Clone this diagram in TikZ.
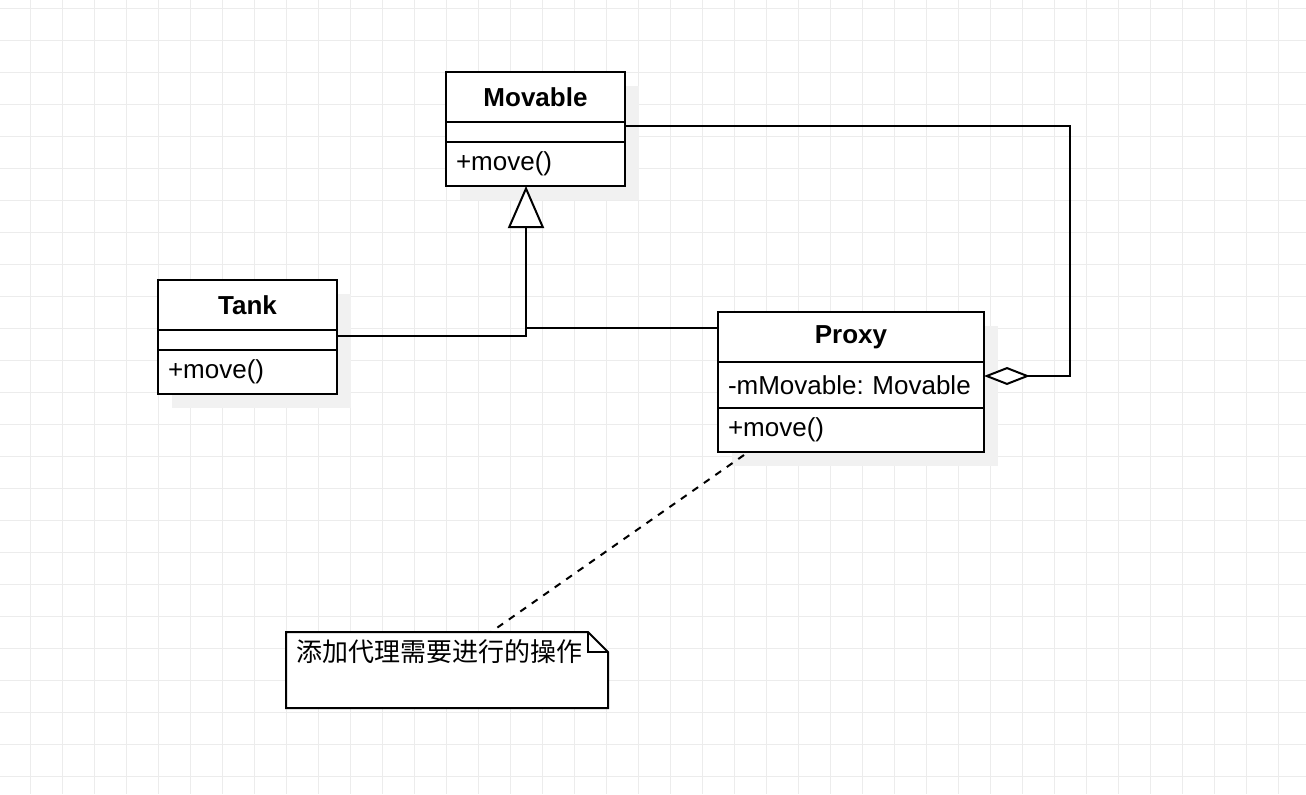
\documentclass[tikz,border=0pt]{standalone}
\usepackage{fontspec}
\setmainfont{Liberation Sans}
\newfontfamily\cjk{Noto Sans CJK SC}
\usepackage{xcolor}
\usepackage{tikz}
\usetikzlibrary{positioning, arrows.meta, shadows}

\definecolor{gridgray}{RGB}{236,236,236}
\definecolor{shadowgray}{RGB}{241,241,241}
\newcommand{\umlfont}{\fontsize{13pt}{15pt}\selectfont\frenchspacing}

\tikzset{
  gridline/.style={draw=gridgray, line width=0.5pt},
  boxshadow/.style={drop shadow={shadow xshift=7pt, shadow yshift=-7pt, fill=shadowgray, opacity=1}},
  classname/.style={draw, fill=white, line width=1pt, outer sep=0pt, boxshadow, minimum width=#1, minimum height=25pt, font=\umlfont\bfseries},
  member/.style={draw, fill=white, line width=1pt, outer sep=0pt, boxshadow, text width=#1, inner xsep=5pt, inner ysep=0pt, align=left, font=\umlfont},
  generalize/.style={line width=1pt, -{Triangle[open, fill=white, length=21pt, width=18pt]}},
  aggregate/.style={line width=1pt, {Diamond[open, fill=white, length=23pt, width=9pt]}-},
  notelink/.style={line width=1pt, dash pattern=on 3.5pt off 3.5pt}
}

\begin{document}
\begin{tikzpicture}[x=0.5pt, y=-0.5pt, font=\umlfont]
\useasboundingbox (0,0) rectangle (1306,794);
% grid
\foreach \gx in {30,62,...,1278} \draw[gridline] (\gx,0) -- (\gx,794);
\foreach \gy in {8,40,...,776} \draw[gridline] (0,\gy) -- (1306,\gy);

% Movable
\node[classname=89.5pt, anchor=north west] (movable) at (446,72) {Movable};
\node[member=79.5pt, minimum height=10pt, below=0pt of movable] (movableattr) {};
\node[member=79.5pt, minimum height=22pt, below=0pt of movableattr] (movablemeth) {+move()};

% Tank
\node[classname=89.5pt, anchor=north west] (tank) at (158,280) {Tank};
\node[member=79.5pt, minimum height=10pt, below=0pt of tank] (tankattr) {};
\node[member=79.5pt, minimum height=22pt, below=0pt of tankattr] (tankmeth) {+move()};

% Proxy
\node[classname=133pt, anchor=north west] (proxy) at (718,312) {Proxy};
\node[member=123pt, minimum height=23pt, below=0pt of proxy] (proxyattr) {\mbox{-mMovable: Movable}};
\node[member=123pt, minimum height=22pt, below=0pt of proxyattr] (proxymeth) {+move()};

% note
\node[minimum width=161pt, minimum height=38pt, inner sep=0pt, outer sep=0pt, anchor=north west] (note) at (286,632) {};
\draw[line width=1pt, fill=white] (note.north west) -- ([xshift=-10pt]note.north east) -- ([yshift=-10pt]note.north east)
  -- (note.south east) -- (note.south west) -- cycle;
\draw[line width=1pt] ([xshift=-10pt]note.north east) |- ([yshift=-10pt]note.north east);
\node[anchor=west, inner sep=0pt] (notetext) at ([shift={(5pt,-10pt)}]note.north west) {\cjk 添加代理需要进行的操作};

% connectors
\coordinate (gentip) at ([xshift=-4.75pt]movablemeth.south);
\coordinate (proxyin) at ([yshift=4.75pt]proxy.west);
\draw[generalize] ([yshift=2.25pt]tankattr.east) -| (gentip);
\draw[line width=1pt] (proxyin) -- (proxyin -| gentip);
\draw[aggregate] ([yshift=4.5pt]proxyattr.east) -- ++(43pt,0) |- ([yshift=3pt]movableattr.east);
\draw[notelink] ([shift={(13pt,-1.5pt)}]proxymeth.south west) -- ([xshift=22pt]note.north);
\end{tikzpicture}
\end{document}
